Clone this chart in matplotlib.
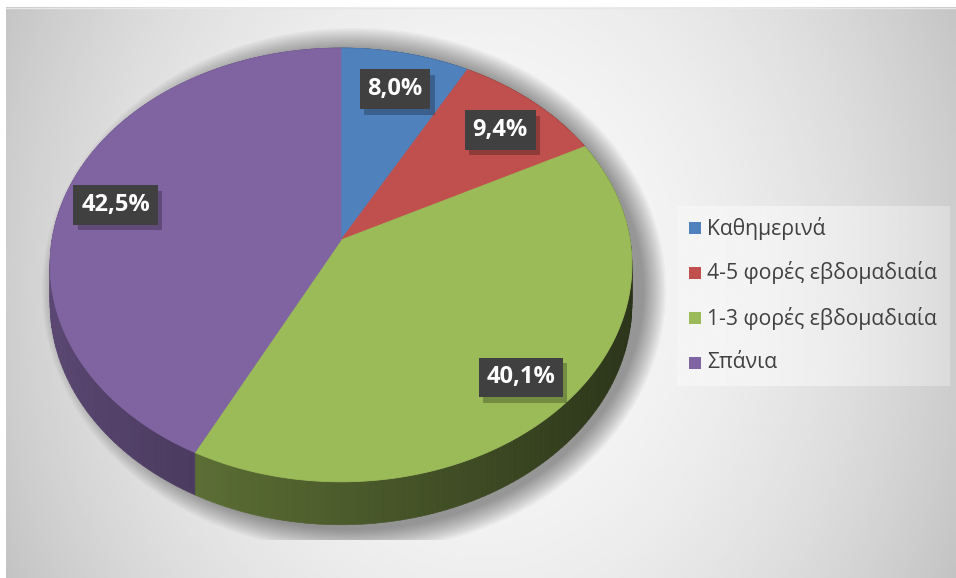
import matplotlib
matplotlib.use("Agg")
import matplotlib.pyplot as plt
import matplotlib.patheffects as pe
from matplotlib.patches import Polygon, Rectangle, Ellipse
from matplotlib.collections import PolyCollection
import numpy as np

# data
labels = ["Καθημερινά", "4-5 φορές εβδομαδιαία", "1-3 φορές εβδομαδιαία", "Σπάνια"]
values = [8.0, 9.4, 40.1, 42.5]
value_text = ["8,0%", "9,4%", "40,1%", "42,5%"]
colors = ["#4f81bd", "#c0504d", "#9bbb59", "#8064a2"]

plt.rcParams["font.family"] = ["Open Sans", "DejaVu Sans"]

# projection of the tilted pie (pixel space)
CX, CY = 341.0, 240.0
A, B, K = 289.0, 214.0, 0.115
DROP = 38.0


def proj(t_deg, r=1.0, drop=0.0):
    t = np.radians(t_deg)
    u = r * np.cos(t)
    v = r * np.sin(t)
    w = 1 + K * v
    return CX + A * u / w, CY - B * v / w + drop / w


def shade(c, f):
    rgb = np.array(matplotlib.colors.to_rgb(c))
    return tuple(np.clip(rgb * f, 0, 1))


fig = plt.figure(figsize=(9.56, 5.78), dpi=100)
ax = fig.add_axes([0, 0, 1, 1])
ax.set_xlim(0, 956)
ax.set_ylim(578, 0)
ax.axis("off")

# chart area background (radial grey gradient)
gx, gy = np.meshgrid(np.linspace(6, 956, 300), np.linspace(7, 578, 200))
dx = (gx - 480) / 480
dy = (gy - 280) / 290
bg = 0.975 - 0.17 * dx ** 2 - 0.04 * dy ** 2
ax.imshow(bg, extent=[6, 956, 578, 7], cmap="gray", vmin=0, vmax=1,
          aspect="auto", zorder=0, interpolation="bilinear")
ax.plot([6, 956], [7.5, 7.5], color="#e6e6e6", lw=1, zorder=0.5)

# soft shadow under the pie
clip = Rectangle((0, 0), 956, 540, transform=ax.transData)
for s in np.linspace(0, 22, 14):
    e = Ellipse((354, 290), 2 * (290 + s), 2 * (240 + s), fc="black",
                ec="none", alpha=0.032, zorder=1)
    ax.add_patch(e)
    e.set_clip_path(clip)

# slice angles, clockwise from top
fracs = np.array(values) / sum(values)
starts = 90 - 360 * np.concatenate([[0], np.cumsum(fracs)[:-1]])
ends = starts - 360 * fracs

# pie sides
for st, en, c in zip(starts, ends, colors):
    ts = np.linspace(st, en, 120)
    quads, cols = [], []
    for t0, t1 in zip(ts[:-1], ts[1:]):
        x0, y0 = proj(t0)
        x1, y1 = proj(t1)
        x2, y2 = proj(t1, drop=DROP)
        x3, y3 = proj(t0, drop=DROP)
        quads.append([(x0, y0), (x1, y1), (x2, y2), (x3, y3)])
        u = np.cos(np.radians((t0 + t1) / 2))
        cols.append(shade(c, 0.49 - 0.22 * u))
    ax.add_collection(PolyCollection(quads, facecolors=cols, edgecolors=cols,
                                     linewidths=0.5, zorder=2))

# pie top faces
for st, en, c in zip(starts, ends, colors):
    ts = np.linspace(st, en, 200)
    xs, ys = proj(ts)
    pts = [(CX, CY)] + list(zip(xs, ys))
    ax.add_patch(Polygon(pts, closed=True, fc=c, ec=c, lw=0.6, zorder=3))

# data labels
for st, en, txt in zip(starts, ends, value_text):
    lx, ly = proj((st + en) / 2, r=0.82)
    t = ax.text(lx, ly + 5, txt, ha="center", va="center", fontsize=17,
                fontweight="bold", color="white", zorder=5,
                bbox=dict(boxstyle="square,pad=0.33", fc="#404040", ec="none"))
    t.get_bbox_patch().set_path_effects(
        [pe.SimplePatchShadow(offset=(3, -4), shadow_rgbFace="black", alpha=0.25),
         pe.Normal()])

# legend
lg = np.linspace(0, 1, 100)[None, :]
ax.imshow(0.96 - 0.1 * lg ** 2, extent=[677, 950, 386, 206], cmap="gray",
          vmin=0, vmax=1, aspect="auto", zorder=6, interpolation="bilinear")
for i, (lab, c) in enumerate(zip(labels, colors)):
    y = 228 + 45 * i
    ax.add_patch(Rectangle((689, y - 6), 12, 12, fc=c, ec="none", zorder=7))
    ax.text(707, y, lab, ha="left", va="center", fontsize=15.2,
            color="#404040", zorder=7)

fig.savefig("out.png", dpi=100)
